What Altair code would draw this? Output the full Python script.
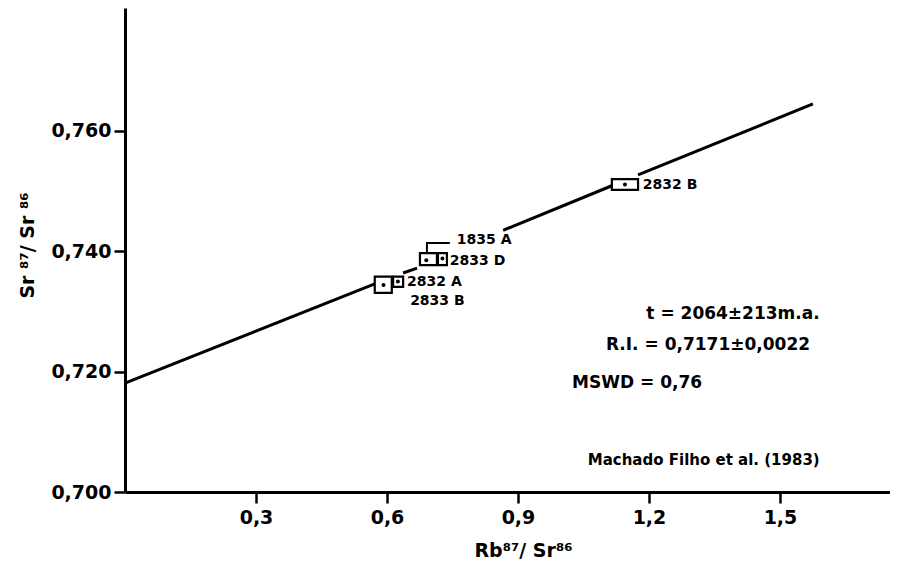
import altair as alt
import pandas as pd

# ---- data ----
samples = ["2833 B", "2832 A", "1835 A", "2833 D", "2832 B"]
rb_sr = [0.592, 0.625, 0.690, 0.727, 1.145]
sr_sr = [0.7344, 0.7350, 0.7385, 0.7388, 0.7511]
rb_lo = [0.572, 0.614, 0.6755, 0.7167, 1.115]
rb_hi = [0.611, 0.637, 0.7144, 0.7373, 1.175]
sr_lo = [0.7331, 0.7341, 0.7377, 0.7377, 0.7502]
sr_hi = [0.7358, 0.7358, 0.7397, 0.7397, 0.7520]

label_text = ["1835 A", "2833 D", "2832 A", "2833 B", "2832 B"]
label_x = [0.760, 0.744, 0.646, 0.653, 1.186]
label_y = [0.7418, 0.7384, 0.7349, 0.7318, 0.7511]

# isochron segments (gaps where boxes / labels sit)
seg_id = [1, 1, 2, 2, 3, 3, 4, 4]
seg_x = [0.0, 0.572, 0.637, 0.669, 0.866, 1.115, 1.175, 1.5755]
seg_y = [0.7181, 0.7346, 0.7364, 0.7372, 0.7435, 0.7509, 0.7527, 0.7645]

bracket_x = [0.6915, 0.6915, 0.744]
bracket_y = [0.7399, 0.7414, 0.7414]

notes = ["t = 2064±213m.a.", "R.I. = 0,7171±0,0022", "MSWD = 0,76"]
note_x = [1.591, 1.569, 1.024]
note_y = [0.72958, 0.72443, 0.71812]
note_align = ["right", "right", "left"]

credit = ["Machado Filho et al. (1983)"]
credit_x = [1.591]
credit_y = [0.70532]

x_ticks = [0.3, 0.6, 0.9, 1.2, 1.5]
y_ticks = [0.700, 0.720, 0.740, 0.760]

FONT = "DejaVu Sans"

xs = alt.Scale(domain=[0, 1.752], nice=False, zero=False)
ys = alt.Scale(domain=[0.700, 0.78044], nice=False, zero=False)

boxes = pd.DataFrame(dict(s=samples, x=rb_sr, y=sr_sr, x0=rb_lo, x1=rb_hi, y0=sr_lo, y1=sr_hi))
labels = pd.DataFrame(dict(t=label_text, x=label_x, y=label_y))
segs = pd.DataFrame(dict(g=seg_id, x=seg_x, y=seg_y, o=list(range(len(seg_x)))))
bracket = pd.DataFrame(dict(x=bracket_x, y=bracket_y, o=[0, 1, 2]))
notes_df = pd.DataFrame(dict(t=notes, x=note_x, y=note_y, a=note_align))
credit_df = pd.DataFrame(dict(t=credit, x=credit_x, y=credit_y))

x_axis = alt.Axis(
    values=x_ticks,
    labelExpr="replace(format(datum.value, '.1f'), '.', ',')",
    title="Rb⁸⁷/ Sr⁸⁶",
    titleX=398, titleY=58, titleBaseline="middle", titleAnchor="start", titleAlign="center",
    labelPadding=5,
)
y_axis = alt.Axis(
    values=y_ticks,
    labelExpr="replace(format(datum.value, '.3f'), '.', ',')",
    title="Sr ⁸⁷/ Sr ⁸⁶",
    titleX=-98, titleY=237, titleAngle=270, titleBaseline="middle", titleAlign="center", titleAnchor="start",
)

line = alt.Chart(segs).mark_line(color="black", strokeWidth=3).encode(
    x=alt.X("x:Q", scale=xs, axis=x_axis),
    y=alt.Y("y:Q", scale=ys, axis=y_axis),
    detail="g:N",
    order="o:Q",
)

rects = alt.Chart(boxes).mark_rect(fill="white", stroke="black", strokeWidth=2.2).encode(
    x="x0:Q", x2="x1:Q", y="y0:Q", y2="y1:Q"
)

dots = alt.Chart(boxes).mark_point(filled=True, color="black", size=16, opacity=1).encode(
    x="x:Q", y="y:Q"
)

brk = alt.Chart(bracket).mark_line(color="black", strokeWidth=2).encode(
    x="x:Q", y="y:Q", order="o:Q"
)

lbl = alt.Chart(labels).mark_text(
    align="left", baseline="middle", font=FONT, fontWeight="bold", fontSize=14, color="black"
).encode(x="x:Q", y="y:Q", text="t:N")

nt_r = alt.Chart(notes_df[notes_df.a == "right"]).mark_text(
    align="right", baseline="middle", font=FONT, fontWeight="bold", fontSize=17, color="black"
).encode(x="x:Q", y="y:Q", text="t:N")

nt_l = alt.Chart(notes_df[notes_df.a == "left"]).mark_text(
    align="left", baseline="middle", font=FONT, fontWeight="bold", fontSize=17, color="black"
).encode(x="x:Q", y="y:Q", text="t:N")

cr = alt.Chart(credit_df).mark_text(
    align="right", baseline="middle", font=FONT, fontWeight="bold", fontSize=15, color="black"
).encode(x="x:Q", y="y:Q", text="t:N")

chart = alt.layer(line, rects, dots, brk, lbl, nt_r, nt_l, cr).properties(
    width=765, height=484,
    autosize=alt.AutoSizeParams(type="none"),
    padding={"left": 117, "top": 0, "right": 0, "bottom": 75},
).configure_view(stroke=None).configure_axis(
    grid=False,
    domainColor="black", domainWidth=3,
    tickColor="black", tickWidth=2.5, tickSize=11,
    labelFont=FONT, labelFontWeight="bold", labelFontSize=19, labelColor="black", labelPadding=3,
    titleFont=FONT, titleFontWeight="bold", titleFontSize=19, titleColor="black",
)

chart.save("out.html", embed_options={"renderer": "svg", "actions": False})
